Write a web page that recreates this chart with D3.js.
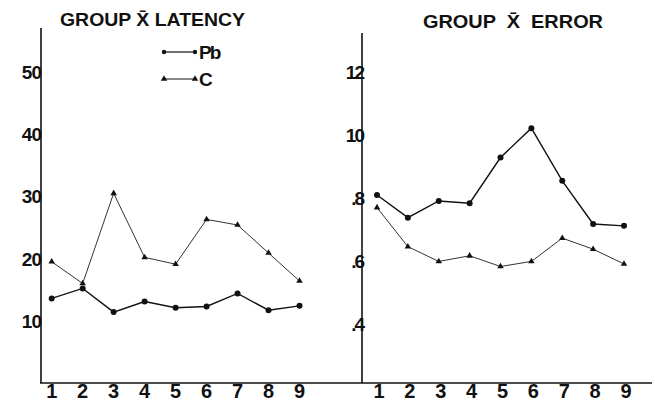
<!DOCTYPE html>
<html>
<head>
<meta charset="utf-8">
<script src="https://cdn.jsdelivr.net/npm/d3@7"></script>
<style>
  body { margin: 0; background: #fff; }
  svg { display: block; }
  text { font-family: "Liberation Sans", Arial, sans-serif; font-weight: bold; fill: #111; white-space: pre; }
</style>
</head>
<body>
<svg id="chart" width="655" height="403"></svg>
<script>
// 数据
const trials = [1, 2, 3, 4, 5, 6, 7, 8, 9];
const latencyPb = [13.6, 15.2, 11.4, 13.1, 12.1, 12.3, 14.4, 11.7, 12.4];
const latencyC = [19.5, 16.0, 30.5, 20.2, 19.1, 26.3, 25.4, 20.9, 16.4];
const errorPb = [0.808, 0.736, 0.789, 0.782, 0.927, 1.02, 0.853, 0.716, 0.71];
const errorC = [0.768, 0.644, 0.597, 0.615, 0.581, 0.597, 0.671, 0.636, 0.589];
const latencyTicks = [10, 20, 30, 40, 50];
const errorTicks = [0.4, 0.6, 0.8, 1.0, 1.2];
const errorTickLabels = ['.4', '.6', '.8', '10', '12'];
const legendNames = ['Pb', 'C'];

const svg = d3.select('#chart');
const baseY = 383;

// 比例尺
const xL = d3.scaleLinear().domain([1, 9]).range([51.7, 299.5]);
const yL = d3.scaleLinear().domain([0, 50]).range([baseY, 72]);
const xR = d3.scaleLinear().domain([1, 9]).range([377, 624]);
const yR = d3.scaleLinear().domain([0.4, 1.2]).range([323.5, 71.5]);

// 坐标轴线
svg.append('line').attr('x1', 41).attr('x2', 41).attr('y1', 28).attr('y2', baseY)
  .attr('stroke', '#111').attr('stroke-width', 1.6);
svg.append('line').attr('x1', 362).attr('x2', 362).attr('y1', 33).attr('y2', baseY)
  .attr('stroke', '#111').attr('stroke-width', 1.6);
svg.append('line').attr('x1', 40).attr('x2', 652).attr('y1', baseY).attr('y2', baseY)
  .attr('stroke', '#111').attr('stroke-width', 1.6);

// y 刻度文字
svg.append('g').selectAll('text').data(latencyTicks).join('text')
  .attr('x', 41).attr('y', d => yL(d) + 7)
  .attr('text-anchor', 'end').attr('font-size', 19)
  .attr('letter-spacing', -1)
  .text(d => d);
svg.append('g').selectAll('text').data(errorTicks).join('text')
  .attr('x', 363).attr('y', d => yR(d) + 7)
  .attr('text-anchor', 'end').attr('font-size', 19)
  .attr('letter-spacing', -2)
  .text((d, i) => errorTickLabels[i]);

// x 刻度文字
svg.append('g').selectAll('text').data(trials).join('text')
  .attr('x', d => xL(d)).attr('y', 398)
  .attr('text-anchor', 'middle').attr('font-size', 20)
  .text(d => d);
svg.append('g').selectAll('text').data(trials).join('text')
  .attr('x', d => xR(d) + 2).attr('y', 398)
  .attr('text-anchor', 'middle').attr('font-size', 20)
  .text(d => d);

// 标题
svg.append('text').attr('x', 60).attr('y', 26).attr('font-size', 19)
  .attr('textLength', 185).attr('lengthAdjust', 'spacingAndGlyphs')
  .text('GROUP X\u0304 LATENCY');
svg.append('text').attr('x', 423).attr('y', 28).attr('font-size', 19)
  .attr('textLength', 180).attr('lengthAdjust', 'spacingAndGlyphs')
  .text('GROUP  X\u0304  ERROR');

const tri = d3.symbol().type(d3.symbolTriangle).size(18);

function drawSeries(xs, ys, vals, kind) {
  const line = d3.line().x((d, i) => xs(trials[i])).y(d => ys(d));
  const g = svg.append('g');
  g.append('path').datum(vals).attr('d', line).attr('fill', 'none')
    .attr('stroke', kind === 'Pb' ? '#111' : '#333')
    .attr('stroke-width', kind === 'Pb' ? 1.4 : 1.0);
  if (kind === 'Pb') {
    g.selectAll('circle').data(vals).join('circle')
      .attr('cx', (d, i) => xs(trials[i])).attr('cy', d => ys(d))
      .attr('r', 3).attr('fill', '#111');
  } else {
    g.selectAll('path.m').data(vals).join('path').attr('class', 'm')
      .attr('d', tri)
      .attr('transform', (d, i) => 'translate(' + xs(trials[i]) + ',' + ys(d) + ')')
      .attr('fill', '#111');
  }
}

drawSeries(xL, yL, latencyC, 'C');
drawSeries(xL, yL, latencyPb, 'Pb');
drawSeries(xR, yR, errorC, 'C');
drawSeries(xR, yR, errorPb, 'Pb');

// 图例
const legY = [52, 79];
const lg = svg.append('g');
legendNames.forEach(function (name, i) {
  lg.append('line').attr('x1', 163).attr('x2', 195).attr('y1', legY[i]).attr('y2', legY[i])
    .attr('stroke', '#111').attr('stroke-width', i === 0 ? 1.2 : 1.0);
  if (i === 0) {
    lg.append('circle').attr('cx', 164).attr('cy', legY[i]).attr('r', 2.2).attr('fill', '#111');
    lg.append('circle').attr('cx', 195).attr('cy', legY[i]).attr('r', 2.2).attr('fill', '#111');
  } else {
    lg.append('path').attr('d', tri).attr('transform', 'translate(164,' + legY[i] + ')').attr('fill', '#111');
    lg.append('path').attr('d', tri).attr('transform', 'translate(195,' + legY[i] + ')').attr('fill', '#111');
  }
  lg.append('text').attr('x', 199).attr('y', legY[i] + 7).attr('font-size', 19)
    .attr('letter-spacing', i === 0 ? -2 : 0)
    .text(name);
});
</script>
</body>
</html>
